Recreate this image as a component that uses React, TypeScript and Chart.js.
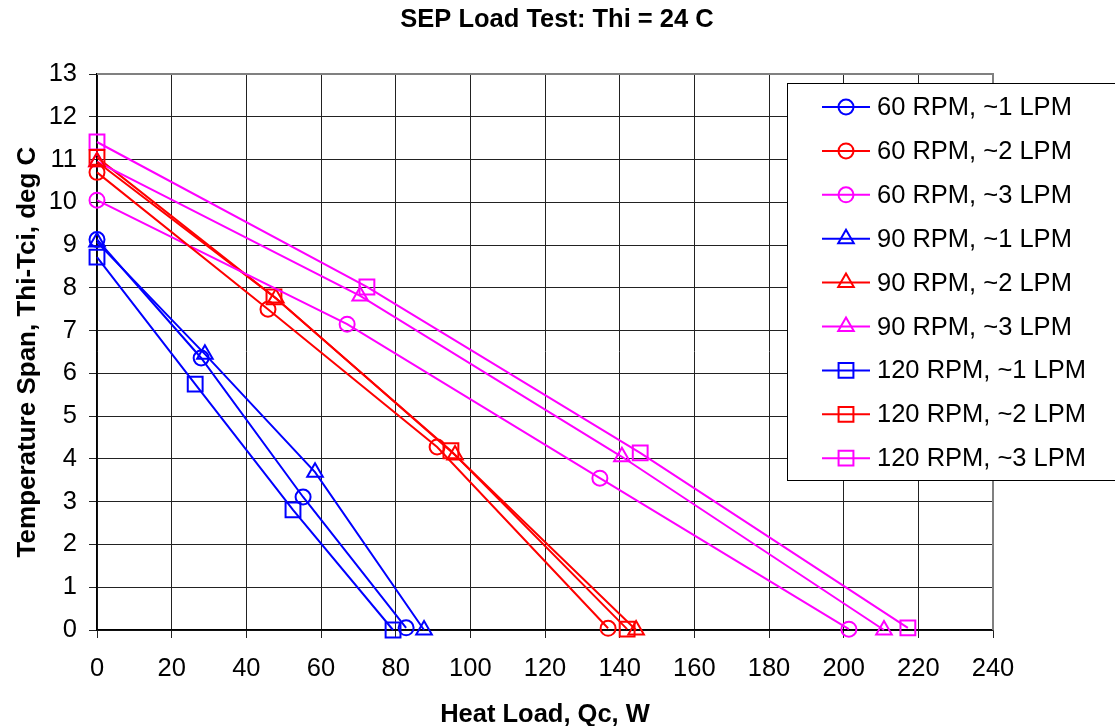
import React, { useEffect, useRef } from "react";
import { Chart, registerables } from "chart.js";

Chart.register(...registerables);

const TITLE = "SEP Load Test: Thi = 24 C";
const X_TITLE = "Heat Load, Qc, W";
const Y_TITLE = "Temperature Span, Thi-Tci, deg C";

const seriesLabels = [
  "60 RPM, ~1 LPM",
  "60 RPM, ~2 LPM",
  "60 RPM, ~3 LPM",
  "90 RPM, ~1 LPM",
  "90 RPM, ~2 LPM",
  "90 RPM, ~3 LPM",
  "120 RPM, ~1 LPM",
  "120 RPM, ~2 LPM",
  "120 RPM, ~3 LPM",
];

const qc60_1 = [0, 27.9, 55.2, 82.8];
const span60_1 = [9.13, 6.36, 3.11, 0.05];
const qc60_2 = [0, 45.8, 91.1, 136.9];
const span60_2 = [10.7, 7.5, 4.28, 0.04];
const qc60_3 = [0, 67.0, 134.7, 201.4];
const span60_3 = [10.05, 7.15, 3.55, 0.02];
const qc90_1 = [0, 28.9, 58.4, 87.6];
const span90_1 = [9.07, 6.45, 3.69, 0.0];
const qc90_2 = [0, 47.9, 95.9, 144.4];
const span90_2 = [10.95, 7.76, 4.09, 0.0];
const qc90_3 = [0, 70.5, 140.6, 210.8];
const span90_3 = [10.95, 7.81, 4.05, 0.0];
const qc120_1 = [0, 26.3, 52.5, 79.3];
const span120_1 = [8.72, 5.75, 2.81, 0.0];
const qc120_2 = [0, 47.4, 94.8, 142.0];
const span120_2 = [11.05, 7.79, 4.19, 0.02];
const qc120_3 = [0, 72.3, 145.5, 217.2];
const span120_3 = [11.41, 8.02, 4.14, 0.05];

const xValues = [qc60_1, qc60_2, qc60_3, qc90_1, qc90_2, qc90_3, qc120_1, qc120_2, qc120_3];
const yValues = [span60_1, span60_2, span60_3, span90_1, span90_2, span90_3, span120_1, span120_2, span120_3];

const seriesColors = ["#0000FF", "#FF0000", "#FF00FF", "#0000FF", "#FF0000", "#FF00FF", "#0000FF", "#FF0000", "#FF00FF"];
const seriesMarkers = ["circle", "circle", "circle", "triangle", "triangle", "triangle", "rect", "rect", "rect"];
const markerRadius: Record<string, number> = { circle: 7.5, triangle: 9, rect: 10.5 };

const FONT = "Arial, 'Liberation Sans', sans-serif";

function drawMarker(ctx: CanvasRenderingContext2D, style: string, x: number, y: number, r: number) {
  ctx.beginPath();
  if (style === "circle") {
    ctx.arc(x, y, r, 0, Math.PI * 2);
  } else if (style === "triangle") {
    ctx.moveTo(x, y - r);
    ctx.lineTo(x + r * Math.sin(Math.PI / 3), y + r * 0.5);
    ctx.lineTo(x - r * Math.sin(Math.PI / 3), y + r * 0.5);
    ctx.closePath();
  } else {
    const s = Math.SQRT1_2 * r;
    ctx.rect(x - s, y - s, 2 * s, 2 * s);
  }
  ctx.stroke();
}

const borderPlugin = {
  id: "greyBorder",
  beforeDatasetsDraw(chart: any) {
    const ctx: CanvasRenderingContext2D = chart.ctx;
    const area = chart.chartArea;
    ctx.save();
    ctx.strokeStyle = "#808080";
    ctx.lineWidth = 2;
    ctx.beginPath();
    ctx.moveTo(area.left, area.top);
    ctx.lineTo(area.right, area.top);
    ctx.lineTo(area.right, area.bottom);
    ctx.stroke();
    ctx.restore();
  },
};

const decorPlugin = {
  id: "decor",
  afterDraw(chart: any) {
    const ctx: CanvasRenderingContext2D = chart.ctx;
    const area = chart.chartArea;
    ctx.save();
    // titles
    ctx.fillStyle = "#000";
    ctx.textAlign = "center";
    ctx.textBaseline = "alphabetic";
    ctx.font = `bold 25.5px ${FONT}`;
    ctx.fillText(TITLE, 557, 27);
    ctx.fillText(X_TITLE, (area.left + area.right) / 2, 722);
    ctx.save();
    ctx.translate(35, (area.top + area.bottom) / 2);
    ctx.rotate(-Math.PI / 2);
    ctx.font = `bold 26px ${FONT}`;
    ctx.fillText(Y_TITLE, 0, 0);
    ctx.restore();

    // legend
    const boxL = 787, boxT = 83, boxB = 480;
    ctx.fillStyle = "#fff";
    ctx.fillRect(boxL, boxT, 1115 - boxL + 5, boxB - boxT);
    ctx.strokeStyle = "#000";
    ctx.lineWidth = 1;
    ctx.strokeRect(boxL + 0.5, boxT + 0.5, 1115 - boxL + 5, boxB - boxT);
    ctx.font = `25.5px ${FONT}`;
    ctx.textAlign = "left";
    ctx.textBaseline = "middle";
    chart.data.datasets.forEach((ds: any, i: number) => {
      const y = 107 + i * 43.9;
      ctx.strokeStyle = ds.borderColor;
      ctx.lineWidth = 2;
      ctx.beginPath();
      ctx.moveTo(822, y);
      ctx.lineTo(870, y);
      ctx.stroke();
      drawMarker(ctx, ds.pointStyle, 846, y, ds.pointRadius);
      ctx.fillStyle = "#000";
      ctx.fillText(ds.label, 877, y + 1);
    });
    ctx.restore();
  },
};

export default function App() {
  const ref = useRef<HTMLCanvasElement>(null);
  useEffect(() => {
    if (!ref.current) return;
    const datasets = seriesLabels.map((label, i) => ({
      label,
      data: xValues[i].map((x, j) => ({ x, y: yValues[i][j] })),
      borderColor: seriesColors[i],
      backgroundColor: "transparent",
      borderWidth: 2,
      pointStyle: seriesMarkers[i],
      pointRadius: markerRadius[seriesMarkers[i]],
      pointBorderWidth: 2,
      pointBorderColor: seriesColors[i],
      pointBackgroundColor: "transparent",
      showLine: true,
      tension: 0,
      clip: false,
    }));
    const chart = new Chart(ref.current, {
      type: "scatter",
      data: { datasets },
      options: {
        animation: false,
        responsive: false,
        layout: { padding: { top: 74, right: 122, left: 0, bottom: 0 } },
        plugins: { legend: { display: false }, title: { display: false }, tooltip: { enabled: false } },
        scales: {
          x: {
            type: "linear",
            min: 0,
            max: 240,
            afterFit: (s: any) => { s.height = 96; },
            ticks: { stepSize: 20, color: "#000", font: { family: FONT, size: 25.5 }, padding: 16, maxRotation: 0 },
            grid: { color: "#222", lineWidth: 1, tickLength: 8 },
            border: { color: "#000", width: 1.5 },
          },
          y: {
            type: "linear",
            min: 0,
            max: 13,
            afterFit: (s: any) => { s.width = 97; },
            ticks: { stepSize: 1, color: "#000", font: { family: FONT, size: 25.5 }, padding: 12 },
            grid: { color: "#222", lineWidth: 1, tickLength: 8 },
            border: { color: "#000", width: 1.5 },
          },
        },
      },
      plugins: [borderPlugin, decorPlugin],
    });
    return () => chart.destroy();
  }, []);
  return (
    <div style={{ position: "absolute", left: 0, top: 0, width: 1115, height: 726, background: "#fff" }}>
      <canvas ref={ref} width={1115} height={726} style={{ display: "block" }} />
    </div>
  );
}
